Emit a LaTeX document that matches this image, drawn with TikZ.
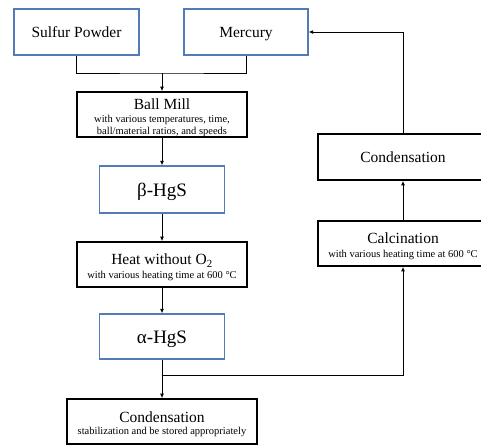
\documentclass[tikz,border=0pt]{standalone}
\usepackage{fontspec}
\setmainfont{Liberation Serif}
\usetikzlibrary{arrows.meta}
\definecolor{boxblue}{RGB}{84,122,188}
\tikzset{
  bluebox/.style={draw=boxblue, line width=1.2pt, inner sep=0pt, align=center},
  blackbox/.style={draw=black, line width=1.6pt, inner sep=0pt, align=center},
  oneline/.style={text height=10.6pt, text depth=0pt},
  greek/.style={font=\fontsize{19}{21}\selectfont, text height=13pt, text depth=0pt},
  conn/.style={line width=0.8pt},
  arr/.style={line width=0.8pt, -{Latex[length=4.5pt,width=3.8pt]}},
  big/.style={font=\fontsize{15.5}{17}\selectfont},
}
\newcommand{\subtxt}{\fontsize{10.5}{13}\selectfont}
\newcommand{\ttltxt}{\fontsize{15.5}{17}\selectfont\rule{0pt}{17pt}}
\begin{document}
\begin{tikzpicture}[x=1pt,y=-1pt]
\useasboundingbox (0,0) rectangle (481,445);
% top inputs
\node[bluebox, big, oneline, minimum width=125pt, minimum height=46pt] (sp) at (76.5,32) {Sulfur Powder};
\node[bluebox, big, oneline, minimum width=124pt, minimum height=46pt] (hg) at (246,32) {Mercury};
% main column
\node[blackbox, minimum width=170pt, minimum height=45pt] (bm) at (162,114.5)
  {\ttltxt Ball Mill\\[1pt]\subtxt with various temperatures, time,\\[-0.5pt] \subtxt ball/material ratios, and speeds};
\node[bluebox, greek, minimum width=125pt, minimum height=47pt] (beta) at (162,189.5) {β-HgS};
\node[blackbox, minimum width=170pt, minimum height=45pt] (heat) at (162,264.5)
  {\ttltxt Heat without O\textsubscript{2}\\[2pt]\subtxt with various heating time at 600 °C};
\node[bluebox, greek, minimum width=125pt, minimum height=45pt] (alpha) at (162,336.5) {α-HgS};
\node[blackbox, minimum width=190pt, minimum height=45pt] (cb) at (162,421.5)
  {\ttltxt Condensation\\[0pt]\subtxt stabilization and be stored appropriately};
% right column
\node[blackbox, big, oneline, minimum width=170pt, minimum height=46pt] (cr) at (403,157) {Condensation};
\node[blackbox, minimum width=170pt, minimum height=45pt] (calc) at (403,243.5)
  {\ttltxt Calcination\\[2pt]\subtxt with various heating time at 600 °C};
% junctions
\coordinate (j1) at (162,73);
\coordinate (j2) at (162,375);
% connectors
\draw[conn] (sp.south) |- (j1) -| (hg.south);
\draw[arr] (j1) -- (bm.north);
\draw[arr] (bm.south) -- (beta.north);
\draw[arr] (beta.south) -- (heat.north);
\draw[arr] (heat.south) -- (alpha.north);
\draw[conn] (alpha.south) -- (j2);
\draw[arr] (j2) -- (cb.north);
\draw[arr] (j2) -| (calc.south);
\draw[arr] (calc.north) -- (cr.south);
\draw[arr] (cr.north) |- (hg.east);
\end{tikzpicture}
\end{document}
